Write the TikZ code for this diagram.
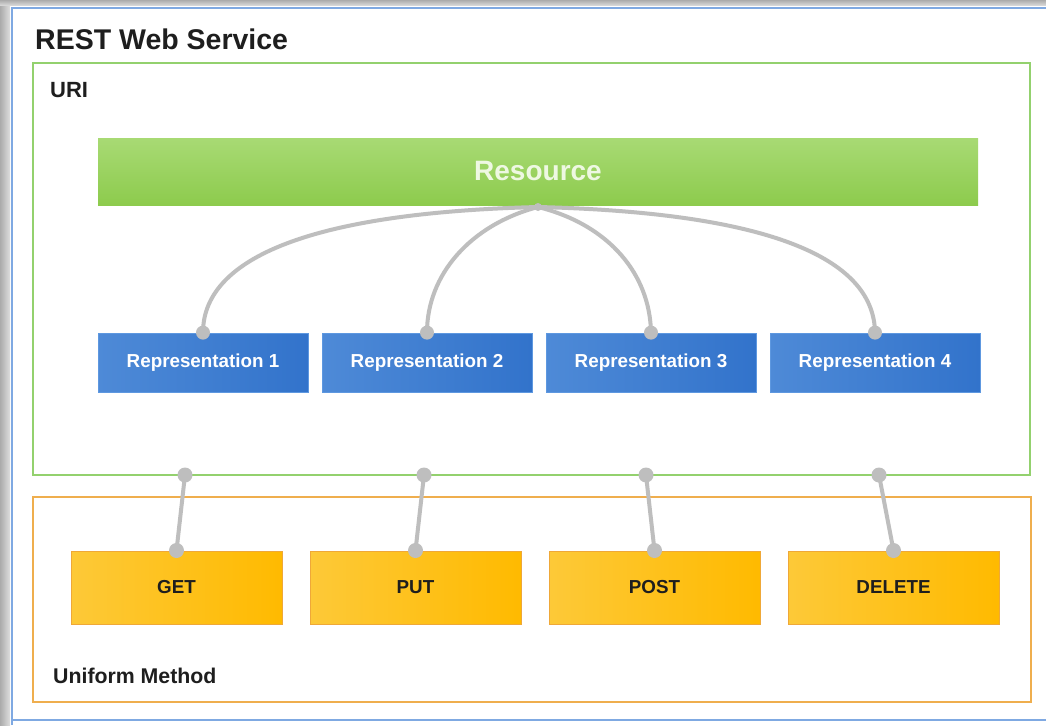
\documentclass[tikz,border=0pt]{standalone}
\usepackage{fontspec}
\setmainfont{Liberation Sans}
\definecolor{frameblue}{HTML}{7FA9E2}
\definecolor{urigreen}{HTML}{93D16E}
\definecolor{umorange}{HTML}{EFAE4E}
\definecolor{resTop}{HTML}{A8DA74}
\definecolor{resBot}{HTML}{8DCB4D}
\definecolor{resText}{HTML}{EEF8E2}
\definecolor{repL}{HTML}{4E8AD7}
\definecolor{repR}{HTML}{3273CB}
\definecolor{repEdge}{HTML}{5E98E0}
\definecolor{metL}{HTML}{FDC938}
\definecolor{metR}{HTML}{FFBA00}
\definecolor{metEdge}{HTML}{EFA838}
\definecolor{linkgrey}{HTML}{BEBEBE}
\definecolor{textdark}{HTML}{1E1E1E}
\definecolor{shadeA}{HTML}{ABABAB}
\definecolor{shadeB}{HTML}{DEDEDE}
\begin{document}
\begin{tikzpicture}[x=1pt,y=-1pt,
  container/.style={draw=#1, line width=1.8pt, fill=white, inner sep=0pt},
  resbox/.style={draw=none, top color=resTop, bottom color=resBot, minimum width=880pt, minimum height=67pt, inner sep=0pt, text=resText, font=\bfseries\fontsize{28}{32}\selectfont},
  repbox/.style={draw=repEdge, line width=0.8pt, left color=repL, right color=repR, minimum width=210pt, minimum height=59pt, inner sep=0pt, text=white, font=\bfseries\fontsize{18.8}{22}\selectfont},
  metbox/.style={draw=metEdge, line width=1pt, left color=metL, right color=metR, minimum width=211pt, minimum height=73pt, inner sep=0pt, text=textdark, font=\bfseries\fontsize{18.8}{22}\selectfont},
  titletext/.style={anchor=base west, inner sep=0pt, text=textdark, font=\bfseries\fontsize{#1}{#1}\selectfont},
  linkline/.style={draw=linkgrey, line width=4pt},
  dotfill/.style={fill=linkgrey}
]
\useasboundingbox (0,0) rectangle (1046,725);
% window background
\fill[white] (0,0) rectangle (1046,725);
\shade[left color=shadeA, right color=shadeB] (0,0) rectangle (10,725);
\shade[top color=shadeA, bottom color=shadeB] (0,0) rectangle (1046,6);
\draw[frameblue, line width=1.6pt] (12,725) -- (12,8) -- (1046,8);
\draw[frameblue, line width=1.6pt] (12,720) -- (1046,720);

\node[titletext=28.5] (title) at (35,50) {REST Web Service};

% containers
\node[container=urigreen, minimum width=997pt, minimum height=412pt] (uri) at (531.5,269) {};
\node[container=umorange, minimum width=998pt, minimum height=205pt] (um) at (532,599.5) {};
\node[titletext=22] (urilabel) at (50,97) {URI};
\node[titletext=21.3] (umlabel) at (53,683) {Uniform Method};

% resource and representations
\node[resbox] (res) at (538,171.5) {Resource};
\node[repbox] (r1) at (203,362.5) {Representation 1};
\node[repbox] (r2) at (427,362.5) {Representation 2};
\node[repbox] (r3) at (651,362.5) {Representation 3};
\node[repbox] (r4) at (875,362.5) {Representation 4};

% methods
\node[metbox] (m1) at (176.5,587.5) {GET};
\node[metbox] (m2) at (415.5,587.5) {PUT};
\node[metbox] (m3) at (654.5,587.5) {POST};
\node[metbox] (m4) at (893.5,587.5) {DELETE};

% connection points on the URI edge
\coordinate (u1) at (185,475);
\coordinate (u2) at (424,475);
\coordinate (u3) at (646,475);
\coordinate (u4) at (879,475);
\coordinate (rs) at (538,207);

% curves from resource
\draw[linkline] (rs) .. controls (300,213) and (203,262) .. (r1.north);
\draw[linkline] (rs) .. controls (470,225) and (427,275) .. (r2.north);
\draw[linkline] (rs) .. controls (610,225) and (650,275) .. (r3.north);
\draw[linkline] (rs) .. controls (780,213) and (874,262) .. (r4.north);
\fill[dotfill] (rs) circle (4pt);
\foreach \r in {r1,r2,r3,r4} {\fill[dotfill] (\r.north) circle (7pt);}

% method links
\draw[linkline] (u1) -- (m1.north);
\draw[linkline] (u2) -- (m2.north);
\draw[linkline] (u3) -- (m3.north);
\draw[linkline] (u4) -- (m4.north);
\foreach \u in {u1,u2,u3,u4} {\fill[dotfill] (\u) circle (7.5pt);}
\foreach \m in {m1,m2,m3,m4} {\fill[dotfill] (\m.north) circle (7.5pt);}
\end{tikzpicture}
\end{document}
